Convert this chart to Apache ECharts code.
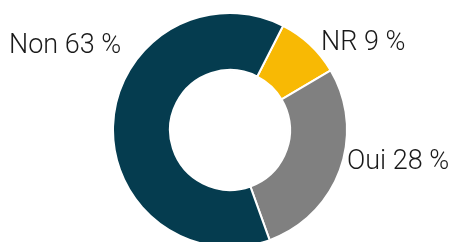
<!DOCTYPE html>
<html>
<head>
<meta charset="utf-8">
<script src="https://cdn.jsdelivr.net/npm/echarts@6/dist/echarts.min.js"></script>
<style>
  html, body { margin: 0; padding: 0; background: #fff; }
  #main { width: 455px; height: 242px; }
</style>
</head>
<body>
<div id="main"></div>
<script>
// données du graphique
var categories = ['NR', 'Oui', 'Non'];
var values = [9, 28, 63];
var colors = ['#F8B904', '#808080', '#053C4F'];

var myChart = echarts.init(document.getElementById('main'));

// position des étiquettes
var labelPos = [
  { x: 321, y: 43 },
  { x: 347, y: 162 },
  { x: 9, y: 46 }
];

var option = {
  animation: false,
  series: [{
    type: 'pie',
    center: [230, 130],
    radius: [60, 117],
    startAngle: 63,
    clockwise: true,
    itemStyle: { borderColor: '#fff', borderWidth: 2 },
    label: {
      show: true,
      position: 'outside',
      formatter: '{b} {c} %',
      fontFamily: 'Roboto',
      fontWeight: 300,
      fontSize: 27,
      color: '#1a1a1a',
      overflow: 'none',
      width: 200
    },
    labelLine: { show: false },
    labelLayout: function (params) {
      var p = labelPos[params.dataIndex];
      return { x: p.x, y: p.y, align: 'left', verticalAlign: 'middle' };
    },
    data: categories.map(function (c, i) {
      return { name: c, value: values[i], itemStyle: { color: colors[i] } };
    })
  }]
};
myChart.setOption(option);
</script>
</body>
</html>
